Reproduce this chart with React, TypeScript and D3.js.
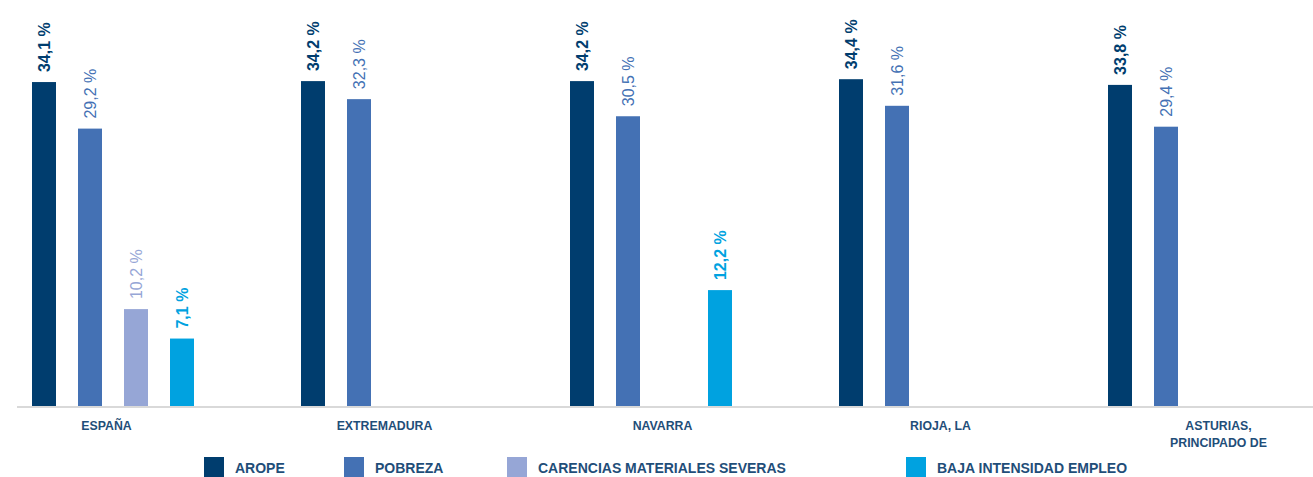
import React from "react";
import * as d3 from "d3";

const categories = ["ESPAÑA", "EXTREMADURA", "NAVARRA", "RIOJA, LA", "ASTURIAS, PRINCIPADO DE"];
const categoryLines = [["ESPAÑA"], ["EXTREMADURA"], ["NAVARRA"], ["RIOJA, LA"], ["ASTURIAS,", "PRINCIPADO DE"]];
const seriesNames = ["AROPE", "POBREZA", "CARENCIAS MATERIALES SEVERAS", "BAJA INTENSIDAD EMPLEO"];
const arope = [34.1, 34.2, 34.2, 34.4, 33.8];
const pobreza = [29.2, 32.3, 30.5, 31.6, 29.4];
const carencias: (number | null)[] = [10.2, null, null, null, null];
const bajaIntensidad: (number | null)[] = [7.1, null, 12.2, null, null];
const seriesValues: (number | null)[][] = [arope, pobreza, carencias, bajaIntensidad];

const colors = ["#003d6e", "#4471b4", "#96a6d6", "#00a2e0"];
const labelBold = [true, false, false, true];

const W = 1313;
const H = 477;
const FONT = "'Liberation Sans', Arial, sans-serif";

export default function App() {
  const y = d3.scaleLinear().domain([0, 40]).range([406, 26]);
  const gx = d3.scaleBand<string>().domain(categories).range([21, 1281]).paddingInner(85 / 269).paddingOuter(0);
  const ix = d3
    .scaleBand<string>()
    .domain(seriesNames)
    .range([0, gx.bandwidth()])
    .paddingInner(22 / 46)
    .paddingOuter(11 / 46);
  const lx = d3.scaleBand<string>().domain(categories).range([-32.5, 1357.5]);
  const fmt = (v: number) => d3.format(".1f")(v).replace(".", ",") + " %";

  const legendX = [204, 344, 507, 906];

  return (
    <svg
      width={W}
      height={H}
      style={{ position: "absolute", left: 0, top: 0, background: "#fff" }}
      fontFamily={FONT}
    >
      <line x1={17} x2={W} y1={y(0) + 1} y2={y(0) + 1} stroke="#d9d9d9" strokeWidth={2} />
      {categories.map((c, ci) => (
        <g key={c}>
          {seriesNames.map((s, si) => {
            const v = seriesValues[si][ci];
            if (v == null) return null;
            const x = (gx(c) as number) + (ix(s) as number);
            const bw = ix.bandwidth();
            const cx = x + bw / 2;
            const ty = y(v) - 10;
            return (
              <g key={s}>
                <rect x={x} y={y(v)} width={bw} height={y(0) - y(v)} fill={colors[si]} />
                <text
                  transform={`translate(${cx + 6},${ty}) rotate(-90)`}
                  fontSize={16}
                  fontWeight={labelBold[si] ? "bold" : "normal"}
                  fill={colors[si]}
                  textAnchor="start"
                >
                  {fmt(v)}
                </text>
              </g>
            );
          })}
          <text
            x={(lx(c) as number) + lx.bandwidth() / 2}
            y={430}
            fontSize={12.3}
            fontWeight="bold"
            fill="#1f4e79"
            textAnchor="middle"
          >
            {categoryLines[ci].map((ln, li) => (
              <tspan key={li} x={(lx(c) as number) + lx.bandwidth() / 2} dy={li === 0 ? 0 : 17}>
                {ln}
              </tspan>
            ))}
          </text>
        </g>
      ))}
      {seriesNames.map((s, si) => (
        <g key={s}>
          <rect x={legendX[si]} y={457} width={20} height={20} fill={colors[si]} />
          <text x={legendX[si] + 31} y={473} fontSize={14} fontWeight="bold" fill="#1f4e79">
            {s}
          </text>
        </g>
      ))}
    </svg>
  );
}
